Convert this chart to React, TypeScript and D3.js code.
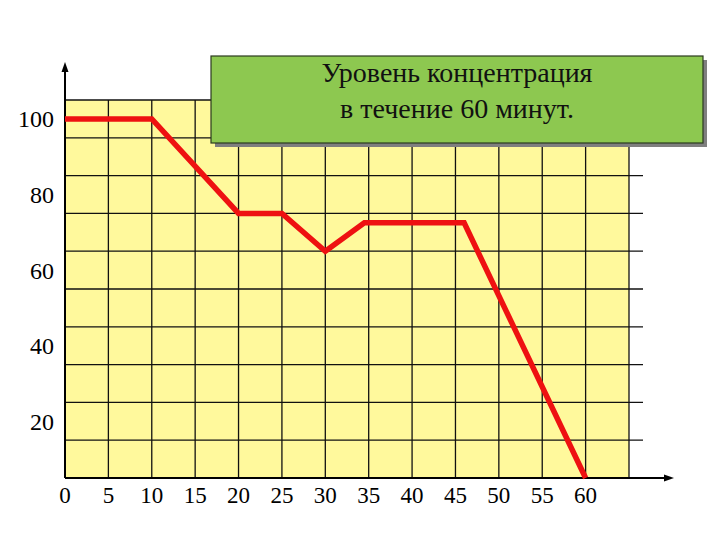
import React from 'react';
import { scaleLinear, line } from 'd3';

// time (min) and concentration
const times = [0, 10, 20, 25, 30, 34.5, 46, 60];
const levels = [100, 100, 75, 75, 65, 72.5, 72.5, 5];

const xTicks = [0, 5, 10, 15, 20, 25, 30, 35, 40, 45, 50, 55, 60];
const yTicks = [100, 80, 60, 40, 20];
const xGrid = [5, 10, 15, 20, 25, 30, 35, 40, 45, 50, 55, 60, 65];
const yGrid = [15, 25, 35, 45, 55, 65, 75, 85, 95, 105];

const titleLines = ['Уровень концентрация', 'в течение 60 минут.'];

const width = 720;
const height = 540;
const font = "'Liberation Serif', 'Times New Roman', Times, serif";

export default function App() {
  const x = scaleLinear().domain([0, 65]).range([65, 629]);
  const y = scaleLinear().domain([5, 105]).range([478, 100]);

  const path = line<number>()
    .x((d, i) => x(times[i]))
    .y((d) => y(d))(levels);

  const x0 = x(0);
  const y0 = y(5);

  return (
    <svg width={width} height={height}
      style={{ position: 'absolute', left: 0, top: 0, background: '#fff' }}>
      {/* yellow plot area */}
      <rect x={x0} y={y(105)} width={x(65) - x0} height={y0 - y(105)} fill="#FFF99C" />

      {/* grid */}
      <g stroke="#111" strokeWidth={1.3}>
        {yGrid.map((v) => (
          <line key={'h' + v} x1={x0} x2={x(65) + 14} y1={y(v)} y2={y(v)} />
        ))}
        {xGrid.map((v) => (
          <line key={'v' + v} x1={x(v)} x2={x(v)} y1={y(105)} y2={y0} />
        ))}
      </g>

      {/* axes with arrows */}
      <g stroke="#000" strokeWidth={2}>
        <line x1={x0} x2={x0} y1={y0} y2={68} />
        <line x1={x0} x2={668} y1={y0} y2={y0} />
      </g>
      <path d={`M${x0},62 L${x0 - 3.5},72 L${x0 + 3.5},72 Z`} fill="#000" />
      <path d={`M674,${y0} L664,${y0 - 3.5} L664,${y0 + 3.5} Z`} fill="#000" />

      {/* concentration line */}
      <path d={path || ''} fill="none" stroke="#EE1111" strokeWidth={5.5}
        strokeLinejoin="miter" />

      {/* tick labels */}
      <g style={{ fontFamily: font, fontSize: '23px' }} fill="#000">
        {xTicks.map((v) => (
          <text key={'xt' + v} x={x(v)} y={503} textAnchor="middle">{v}</text>
        ))}
        {yTicks.map((v) => (
          <text key={'yt' + v} x={54} y={y(v)} dy="0.35em" textAnchor="end"
            style={{ fontSize: '24px' }}>{v}</text>
        ))}
      </g>

      {/* title box */}
      <rect x={215} y={60} width={492} height={87} fill="#7f7f7f" />
      <rect x={211} y={56} width={492} height={87} fill="#8DC850" stroke="#2b3a1e" strokeWidth={1.2} />
      <g style={{ fontFamily: font, fontSize: '28px' }} fill="#111" textAnchor="middle">
        {titleLines.map((t, i) => (
          <text key={t} x={457} y={82 + i * 36}>{t}</text>
        ))}
      </g>
    </svg>
  );
}
